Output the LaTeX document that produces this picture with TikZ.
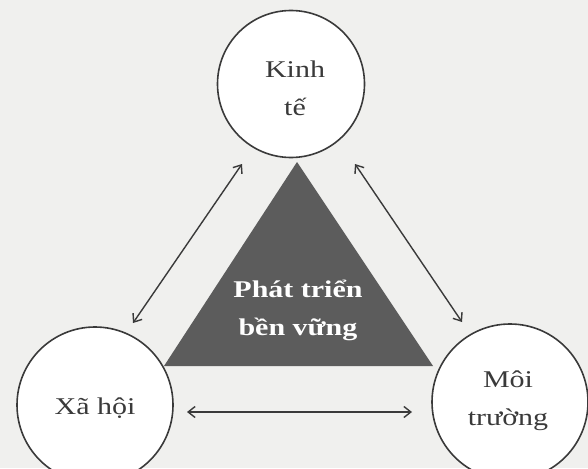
\documentclass[tikz,border=0pt]{standalone}
\usepackage{fontspec}
\setmainfont{Liberation Serif}
\usetikzlibrary{arrows.meta,calc}
\newcommand\widetxt[1]{\scalebox{1.25}[1]{#1}}
\definecolor{bgc}{HTML}{F0F0EE}
\definecolor{ink}{HTML}{3A3A3A}
\definecolor{tri}{HTML}{5C5C5C}
\begin{document}
\begin{tikzpicture}[x=1pt,y=-1pt,
  topic/.style={circle,draw=ink,line width=1.6pt,fill=white,inner sep=0pt},
  lbl/.style={text=ink,align=center,anchor=base,inner sep=0pt,
    font=\fontsize{24}{38}\selectfont},
  link/.style={<->,draw=ink,line width=1.4pt,
    >={Straight Barb[length=7pt,width=11pt,line width=1.4pt]}},
  centre/.style={text=white,align=center,anchor=base,inner sep=0pt,
    font=\fontsize{24}{38}\selectfont\bfseries}]
\useasboundingbox (0,0) rectangle (588,468);
\clip (0,0) rectangle (588,468);
\fill[bgc] (0,0) rectangle (588,468);
% triangle
\coordinate (apex) at (297,162);
\coordinate (bl) at (164,366);
\coordinate (br) at (433,366);
\fill[tri] (apex) -- (bl) -- (br) -- cycle;
\node[centre] (ptbv) at (298,335) {\widetxt{Phát triển}\\\widetxt{bền vững}};
% circles
\node[topic,minimum size=147pt] (kt) at (291,84) {};
\node[topic,minimum size=156pt] (xh) at (95,405) {};
\node[topic,minimum size=156pt] (mt) at (510,402) {};
\node[lbl] (ktt) at (295,115) {\widetxt{Kinh}\\\widetxt{tế}};
\node[lbl] (xht) at (95,414) {\widetxt{Xã hội}};
\node[lbl] (mtt) at (508,425) {\widetxt{Môi}\\\widetxt{trường}};
% arrow ends
\coordinate (a1) at (242,164);
\coordinate (a2) at (133,323);
\coordinate (b1) at (355,164);
\coordinate (b2) at (462,322);
\coordinate (c1) at (187,412);
\coordinate (c2) at (412,412);
\draw[link] (a1) -- (a2);
\draw[link] (b1) -- (b2);
\draw[link] (c1) -- (c2);
\end{tikzpicture}
\end{document}
